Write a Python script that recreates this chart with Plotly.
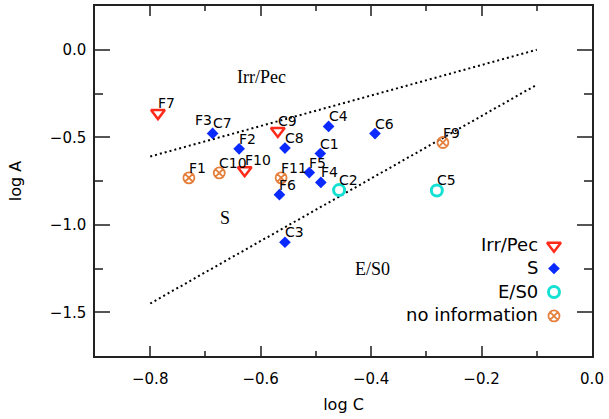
import plotly.graph_objects as go

# ---- data ----
irr_names = ["F7", "C9", "F10"]
irr_logC = [-0.786, -0.569, -0.629]
irr_logA = [-0.362, -0.464, -0.688]

s_names = ["C7", "F2", "C8", "C4", "C1", "F5", "F4", "F6", "C3", "C6"]
s_logC = [-0.687, -0.639, -0.556, -0.477, -0.492, -0.512, -0.491, -0.566, -0.556, -0.393]
s_logA = [-0.478, -0.566, -0.562, -0.438, -0.593, -0.702, -0.758, -0.828, -1.100, -0.479]

e_names = ["C2", "C5"]
e_logC = [-0.458, -0.281]
e_logA = [-0.802, -0.804]

n_names = ["F1", "C10", "F11", "F9"]
n_logC = [-0.730, -0.675, -0.563, -0.270]
n_logA = [-0.732, -0.704, -0.732, -0.530]

# label without a visible marker
extra_names = ["F3"]
extra_logC = [-0.719]
extra_logA = [-0.459]

# dividing lines
upper_logC = [-0.8, -0.1]
upper_logA = [-0.61, 0.0]
lower_logC = [-0.8, -0.1]
lower_logA = [-1.45, -0.2]

# region labels
region_text = ["Irr/Pec", "S", "E/S0"]
region_logC = [-0.598, -0.664, -0.397]
region_logA = [-0.154, -0.960, -1.255]

legend_names = ["Irr/Pec", "S", "E/S0", "no information"]

# ---- styles ----
RED = "#ff2a1a"
BLUE = "#0a2aff"
CYAN = "#14e0d4"
ORANGE = "#e57f3c"
FONT = "DejaVu Sans"

styles = [
    dict(symbol="triangle-down-open", size=12, color=RED, line=dict(width=2.5, color=RED)),
    dict(symbol="diamond", size=9, color=BLUE, line=dict(width=0)),
    dict(symbol="circle-open", size=11, color=CYAN, line=dict(width=3, color=CYAN)),
    dict(symbol="circle-x-open", size=11, color=ORANGE, line=dict(width=1.8, color=ORANGE)),
]

fig = go.Figure()

for xs, ys in [(upper_logC, upper_logA), (lower_logC, lower_logA)]:
    fig.add_trace(go.Scatter(x=xs, y=ys, mode="lines",
                             line=dict(color="black", width=2, dash="2px,3px"),
                             showlegend=False, hoverinfo="skip"))

groups = [(irr_logC, irr_logA, irr_names), (s_logC, s_logA, s_names),
          (e_logC, e_logA, e_names), (n_logC, n_logA, n_names)]

for (xs, ys, names), st in zip(groups, styles):
    fig.add_trace(go.Scatter(x=xs, y=ys, mode="markers", marker=st,
                             showlegend=False, text=names))

annotations = []
all_x = irr_logC + s_logC + e_logC + n_logC + extra_logC
all_y = irr_logA + s_logA + e_logA + n_logA + extra_logA
all_n = irr_names + s_names + e_names + n_names + extra_names
for x, y, n in zip(all_x, all_y, all_n):
    annotations.append(dict(x=x, y=y, text=n, showarrow=False, xanchor="left",
                            yanchor="bottom", xshift=-1, yshift=1, borderpad=0,
                            font=dict(family=FONT, size=14, color="black")))

for t, x, y in zip(region_text, region_logC, region_logA):
    annotations.append(dict(x=x, y=y, text=t, showarrow=False, xanchor="center",
                            yanchor="middle",
                            font=dict(family="Liberation Serif", size=18, color="black")))

# custom legend (keys on an overlay axis spanning the plot area 0..1)
leg_key_x = 0.9235
leg_text_x = 0.896
leg_rows = [0.315, 0.25, 0.1827, 0.1145]
for name, st, yy in zip(legend_names, styles, leg_rows):
    fig.add_trace(go.Scatter(x=[leg_key_x], y=[yy], mode="markers", marker=st,
                             xaxis="x2", yaxis="y2", showlegend=False, hoverinfo="skip"))
    annotations.append(dict(x=leg_text_x, y=yy, xref="paper", yref="paper", text=name,
                            showarrow=False, xanchor="right", yanchor="middle", yshift=1,
                            font=dict(family=FONT, size=18, color="black")))

axis_common = dict(showgrid=False, zeroline=False, showline=True, linecolor="#222",
                   linewidth=1.5, mirror="allticks", ticks="inside", tickcolor="#555",
                   tickwidth=1.5, tickformat=".1f",
                   tickfont=dict(family=FONT, size=15, color="black"))

fig.update_layout(
    width=609, height=419,
    margin=dict(l=95, r=17, t=4, b=63),
    paper_bgcolor="white", plot_bgcolor="white",
    xaxis=dict(range=[-0.9, 0.0], dtick=0.2, tick0=0, ticklen=10,
               minor=dict(dtick=0.1, tick0=0, ticklen=5, ticks="inside", tickcolor="#555", tickwidth=1.5),
               title=dict(text="log C", font=dict(family=FONT, size=16, color="black"), standoff=12),
               ticklabelstandoff=8, **axis_common),
    yaxis=dict(range=[-1.75, 0.25], dtick=0.5, tick0=0, ticklen=15,
               minor=dict(dtick=0.25, tick0=0, ticklen=8, ticks="inside", tickcolor="#555", tickwidth=1.5),
               title=dict(text="log A", font=dict(family=FONT, size=16, color="black"), standoff=24),
               ticklabelstandoff=4, **axis_common),
    xaxis2=dict(range=[0, 1], overlaying="x", visible=False),
    yaxis2=dict(range=[0, 1], overlaying="y", visible=False),
    annotations=annotations,
    showlegend=False,
)

fig.write_html("out.html")
